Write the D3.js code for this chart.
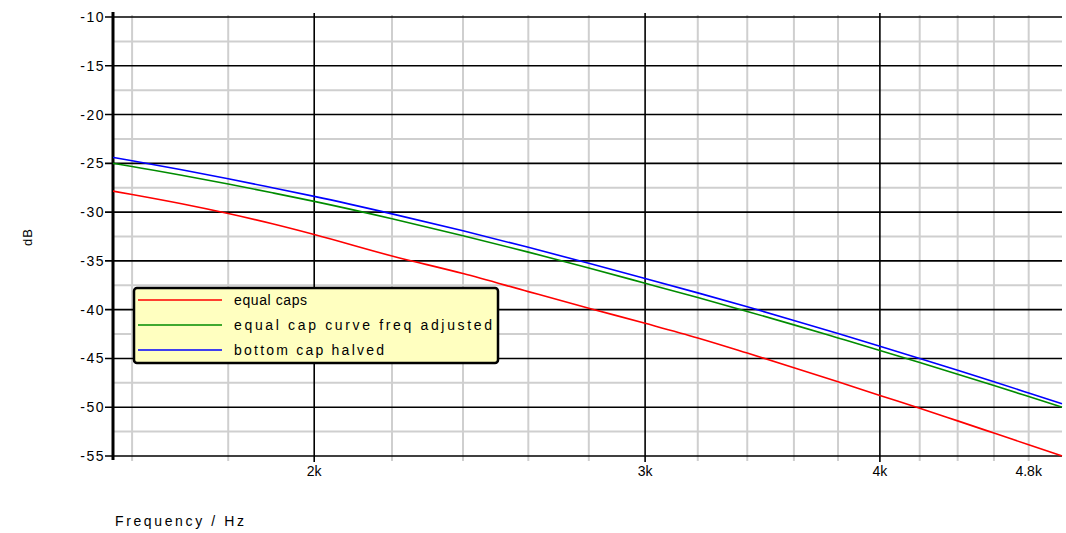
<!DOCTYPE html>
<html><head><meta charset="utf-8">
<script src="https://cdn.jsdelivr.net/npm/d3@7"></script>
<style>
html,body{margin:0;padding:0;background:#fff;}
svg{display:block;}
text{font-family:"Liberation Sans",Arial,sans-serif;fill:#000;}
</style></head>
<body>
<svg id="chart" width="1066" height="533"></svg>
<script>
// ---- data ----
const freqs = [1563,1600,1700,1800,1900,2000,2200,2400,2600,2800,3000,3200,3400,3600,3800,4000,4200,4400,4600,4800,5000];
const equalCaps = [-27.85,-28.2,-29.15,-30.15,-31.2,-32.3,-34.5,-36.3,-38.15,-39.85,-41.4,-42.9,-44.45,-45.95,-47.4,-48.8,-50.1,-51.4,-52.65,-53.85,-55.0];
const equalCapAdjusted = [-25.0,-25.32,-26.22,-27.12,-28.02,-28.9,-30.68,-32.42,-34.1,-35.73,-37.29,-38.76,-40.18,-41.56,-42.9,-44.18,-45.42,-46.62,-47.78,-48.91,-50.0];
const bottomCapHalved = [-24.4,-24.74,-25.66,-26.58,-27.5,-28.39,-30.18,-31.92,-33.61,-35.24,-36.8,-38.28,-39.71,-41.1,-42.45,-43.75,-45.0,-46.21,-47.39,-48.54,-49.65];
const seriesNames = ["equal caps","equal cap curve freq adjusted","bottom cap halved"];
const seriesColors = ["#ff0000","#008c00","#0000ff"];
const yMajorTicks = [-10,-15,-20,-25,-30,-35,-40,-45,-50,-55];
const yMinorTicks = [-12.5,-17.5,-22.5,-27.5,-32.5,-37.5,-42.5,-47.5,-52.5];
const xMajorTicks = [2000,3000,4000];
const xMinorTicks = [1600,1800,2200,2400,2600,2800,3200,3400,3600,3800,4200,4400,4600,4800];
const xTickLabels = [[2000,"2k"],[3000,"3k"],[4000,"4k"],[4800,"4.8k"]];

// ---- layout ----
const L = 113, R = 1062, T = 17, B = 456;
const svg = d3.select("#chart");
const x = d3.scaleLog().domain([1563,5000]).range([L,R]);
const y = d3.scaleLinear().domain([-10,-55]).range([T,B]);

// minor grid
svg.append("g").selectAll("line").data(yMinorTicks).join("line")
  .attr("x1",L).attr("x2",R).attr("y1",d=>y(d)).attr("y2",d=>y(d))
  .attr("stroke","#cfcfcf").attr("stroke-width",2);
svg.append("g").selectAll("line").data(xMinorTicks).join("line")
  .attr("x1",d=>x(d)).attr("x2",d=>x(d)).attr("y1",T-2).attr("y2",B+5)
  .attr("stroke","#cfcfcf").attr("stroke-width",2);
// major grid
svg.append("g").selectAll("line").data(yMajorTicks).join("line")
  .attr("x1",L-8).attr("x2",R).attr("y1",d=>y(d)).attr("y2",d=>y(d))
  .attr("stroke","#000").attr("stroke-width",1.6);
svg.append("g").selectAll("line").data(xMajorTicks).join("line")
  .attr("x1",d=>x(d)).attr("x2",d=>x(d)).attr("y1",T-4).attr("y2",B+6)
  .attr("stroke","#000").attr("stroke-width",1.6);

// y axis thick line
svg.append("line").attr("x1",L).attr("x2",L).attr("y1",T-5).attr("y2",B+4)
  .attr("stroke","#000").attr("stroke-width",3);

// y labels
svg.append("g").selectAll("text").data(yMajorTicks).join("text")
  .attr("x",L-8).attr("y",d=>y(d)).attr("dy","0.36em")
  .attr("text-anchor","end").attr("font-size",14).attr("letter-spacing","1.5px")
  .text(d=>"-"+Math.abs(d));

// x labels
svg.append("g").selectAll("text").data(xTickLabels).join("text")
  .attr("x",d=>x(d[0])).attr("y",B+15).attr("dy","0.36em")
  .attr("text-anchor","middle").attr("font-size",14)
  .text(d=>d[1]);

// axis titles
svg.append("text").attr("transform","translate(32,237) rotate(-90)")
  .attr("text-anchor","middle").attr("font-size",13).attr("letter-spacing","1px").text("dB");
svg.append("text").attr("x",115).attr("y",521).attr("dy","0.36em")
  .attr("font-size",14).attr("textLength",129).attr("lengthAdjust","spacing").text("Frequency / Hz");

// curves
const allSeries = [equalCaps, equalCapAdjusted, bottomCapHalved];
const line = d3.line().curve(d3.curveMonotoneX).x(d=>x(d[0])).y(d=>y(d[1]));
const clip = svg.append("clipPath").attr("id","clip").append("rect")
  .attr("x",L).attr("y",T-3).attr("width",R-L+2).attr("height",B-T+6);
allSeries.forEach((s,i)=>{
  svg.append("path").datum(freqs.map((f,j)=>[f,s[j]]))
    .attr("d",line).attr("fill","none").attr("stroke",seriesColors[i])
    .attr("stroke-width",1.6).attr("clip-path","url(#clip)");
});

// legend
const lg = svg.append("g");
lg.append("rect").attr("x",134).attr("y",288).attr("width",364).attr("height",75)
  .attr("rx",3).attr("fill","#ffffc0").attr("stroke","#000").attr("stroke-width",2.5);
const legendText = [73, 258, 150];
seriesNames.forEach((n,i)=>{
  const yy = 300 + i*25;
  lg.append("line").attr("x1",138).attr("x2",222).attr("y1",yy).attr("y2",yy)
    .attr("stroke",seriesColors[i]).attr("stroke-width",1.6);
  lg.append("text").attr("x",234).attr("y",yy).attr("dy","0.36em")
    .attr("font-size",14).attr("textLength",legendText[i]).attr("lengthAdjust","spacing").text(n);
});
</script>
</body></html>
